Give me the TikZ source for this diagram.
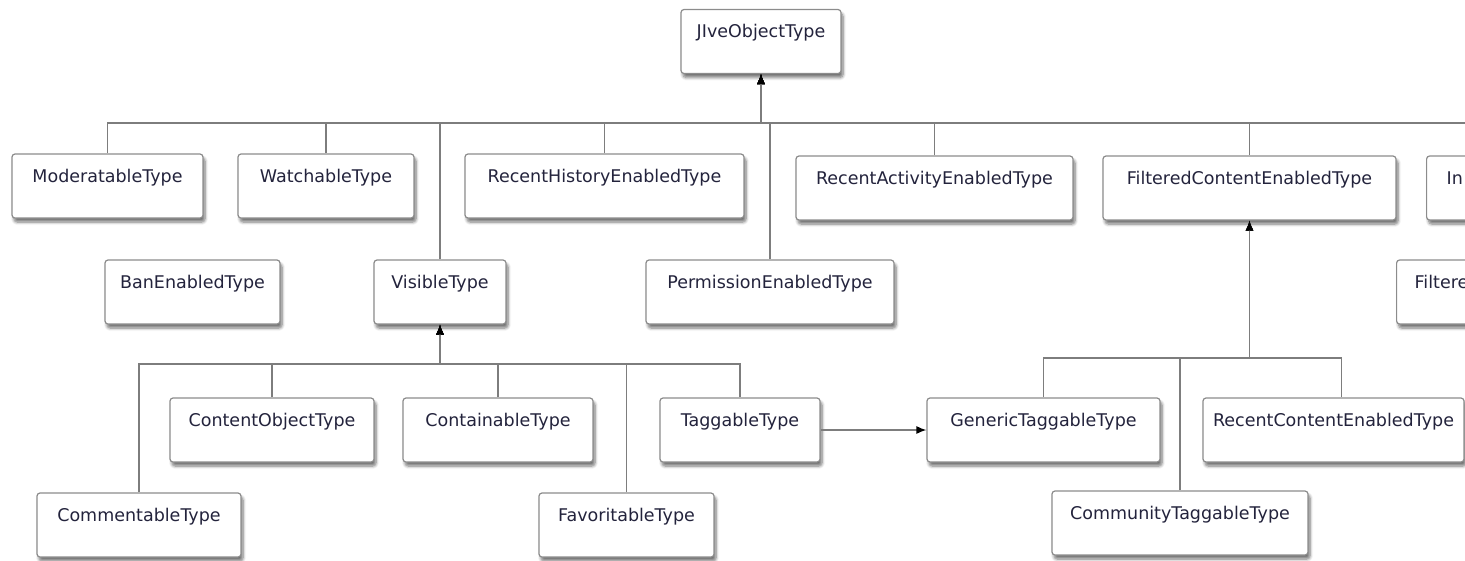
\documentclass[tikz,border=0pt]{standalone}
\usepackage{fontspec}
\setmainfont{DejaVu Sans}
\usetikzlibrary{shadows.blur,arrows.meta}
\definecolor{typetext}{RGB}{35,35,60}
\definecolor{linegray}{RGB}{125,125,125}

\begin{document}
\begin{tikzpicture}[x=1pt,y=-1pt,type_node/.style={rectangle,rounded corners=3pt,draw=black!45,line width=1.2pt,fill=white,blur shadow={shadow xshift=2pt,shadow yshift=-4pt,shadow blur radius=3pt,shadow blur steps=6,shadow opacity=55},font=\fontsize{17.5}{20}\selectfont,text=typetext,text height=24pt,text depth=32pt,inner ysep=4pt,inner xsep=0pt},cut_node/.style={type_node,anchor=west,text width=200pt,align=left},link/.style={draw=linegray,line width=1.3pt},arrow_link/.style={link,-{Latex[length=10pt,width=8pt,color=black]}}]

		\clip (0,0) rectangle (1465,560);

		\node[type_node,minimum width=160] (jive) at (761,41.5) {JIveObjectType};

		\node[type_node,minimum width=191] (moder) at (107.5,186) {ModeratableType};
		\node[type_node,minimum width=176] (watch) at (326,186) {WatchableType};
		\node[type_node,minimum width=279] (rhist) at (604.5,186) {RecentHistoryEnabledType};
		\node[type_node,minimum width=277] (ract) at (934.5,188) {RecentActivityEnabledType};
		\node[type_node,minimum width=293] (filt) at (1249.5,188) {FilteredContentEnabledType};
		\node[cut_node,inner xsep=20pt] (inc) at (1426,188) {In};

		\node[type_node,minimum width=175] (ban) at (192.5,292) {BanEnabledType};
		\node[type_node,minimum width=132] (visible) at (440,292) {VisibleType};
		\node[type_node,minimum width=248] (perm) at (770,292) {PermissionEnabledType};
		\node[cut_node,inner xsep=18pt] (filt2) at (1396,292) {Filtere};

		\node[type_node,minimum width=204] (contobj) at (272,430) {ContentObjectType};
		\node[type_node,minimum width=190] (contain) at (498,430) {ContainableType};
		\node[type_node,minimum width=160] (tagg) at (740,430) {TaggableType};
		\node[type_node,minimum width=233] (gentag) at (1043.5,430) {GenericTaggableType};
		\node[type_node,minimum width=261] (rcont) at (1333.5,430) {RecentContentEnabledType};

		\node[type_node,minimum width=204] (comment) at (139,525) {CommentableType};
		\node[type_node,minimum width=175] (fav) at (626.5,525) {FavoritableType};
		\node[type_node,minimum width=256] (commtag) at (1180,523) {CommunityTaggableType};

		\coordinate (top_bus) at (0,123);
		\coordinate (visible_bus) at (0,364);
		\coordinate (filtered_bus) at (0,358);

		\draw[arrow_link] (moder.north) |- (top_bus -| jive.south) -- (jive.south);
		\draw[arrow_link] (watch.north) |- (top_bus -| jive.south) -- (jive.south);
		\draw[arrow_link] (visible.north) |- (top_bus -| jive.south) -- (jive.south);
		\draw[arrow_link] (rhist.north) |- (top_bus -| jive.south) -- (jive.south);
		\draw[arrow_link] (perm.north) |- (top_bus -| jive.south) -- (jive.south);
		\draw[arrow_link] (ract.north) |- (top_bus -| jive.south) -- (jive.south);
		\draw[arrow_link] (filt.north) |- (top_bus -| jive.south) -- (jive.south);
		\draw[arrow_link] (inc.north) |- (top_bus -| jive.south) -- (jive.south);

		\draw[arrow_link] (comment.north) |- (visible_bus -| visible.south) -- (visible.south);
		\draw[arrow_link] (contobj.north) |- (visible_bus -| visible.south) -- (visible.south);
		\draw[arrow_link] (contain.north) |- (visible_bus -| visible.south) -- (visible.south);
		\draw[arrow_link] (fav.north) |- (visible_bus -| visible.south) -- (visible.south);
		\draw[arrow_link] (tagg.north) |- (visible_bus -| visible.south) -- (visible.south);

		\draw[arrow_link] (gentag.north) |- (filtered_bus -| filt.south) -- (filt.south);
		\draw[arrow_link] (commtag.north) |- (filtered_bus -| filt.south) -- (filt.south);
		\draw[arrow_link] ([xshift=8pt]rcont.north) |- (filtered_bus -| filt.south) -- (filt.south);

		\draw[arrow_link] (tagg) -- (gentag);
		\end{tikzpicture}
\end{document}
